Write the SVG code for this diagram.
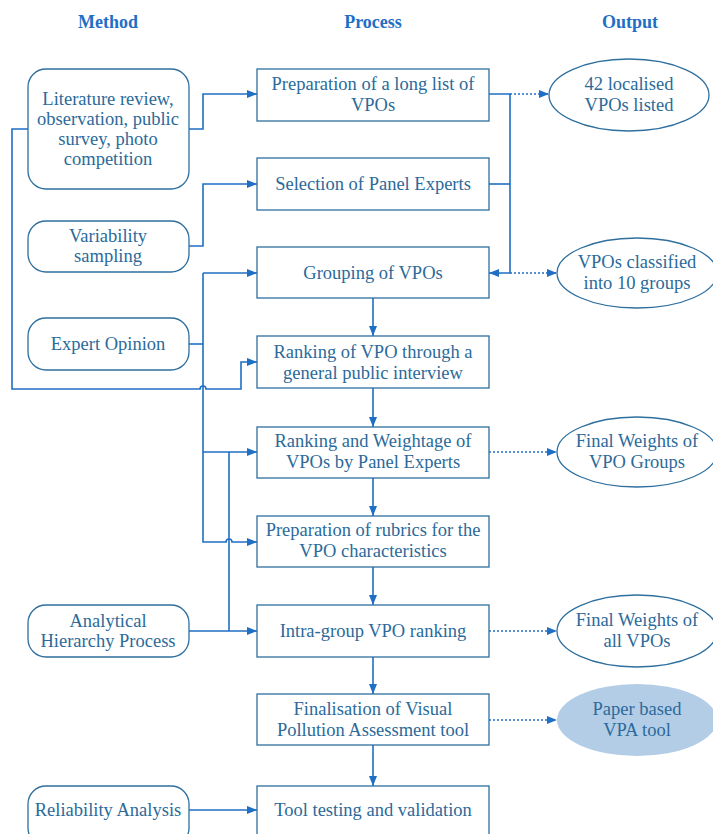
<svg xmlns="http://www.w3.org/2000/svg" width="713" height="834" viewBox="0 0 713 834">
<defs>
<marker id="ah" markerWidth="10" markerHeight="8" refX="10" refY="4" orient="auto" markerUnits="userSpaceOnUse">
<path d="M0,0 L10,4 L0,8 Z" fill="#1f6fc5"/>
</marker>
</defs>
<style>
.hd{font-family:"Liberation Serif","DejaVu Serif",serif;font-weight:bold;font-size:18px;fill:#1f6fc5;text-anchor:middle}
.t{font-family:"Liberation Serif","DejaVu Serif",serif;font-size:18.5px;fill:#2b6a9a;text-anchor:middle}
.rb{fill:#fff;stroke:#2e6f9e;stroke-width:1.3}
.pb{fill:#fff;stroke:#2e6f9e;stroke-width:1.3}
.el{fill:#fff;stroke:#2e6f9e;stroke-width:1.3}
.elf{fill:#b4cde6;stroke:none}
.c{fill:none;stroke:#1f6fc5;stroke-width:1.6}
.d{fill:none;stroke:#1f6fc5;stroke-width:1.4;stroke-dasharray:2,2}
</style>
<rect width="713" height="834" fill="#fff"/>
<g id="headers">
<text class="hd" x="108" y="28">Method</text>
<text class="hd" x="373" y="28">Process</text>
<text class="hd" x="630" y="28">Output</text>
</g>
<g id="connectors">
<path class="c" d="M189,129 H203 V94 H257" marker-end="url(#ah)"/>
<path class="c" d="M189,246 H203 V184 H257" marker-end="url(#ah)"/>
<path class="c" d="M28,129 H12 V389 H200 A3,3 0 0 1 206,389 H241 V362 H257" marker-end="url(#ah)"/>
<path class="c" d="M189,344 H203"/>
<path class="c" d="M203,273 V542 H226 A3,3 0 0 1 232,542 H257" marker-end="url(#ah)"/>
<path class="c" d="M203,273 H257" marker-end="url(#ah)"/>
<path class="c" d="M203,452 H257" marker-end="url(#ah)"/>
<path class="c" d="M229,452 V631"/>
<path class="c" d="M189,631 H257" marker-end="url(#ah)"/>
<path class="c" d="M189,810 H257" marker-end="url(#ah)"/>
<path class="c" d="M489,94 H510 V273 H489" marker-end="url(#ah)"/>
<path class="c" d="M489,184 H510"/>
<path class="d" d="M510,94 H549" marker-end="url(#ah)"/>
<path class="d" d="M510,273 H557" marker-end="url(#ah)"/>
<path class="d" d="M489,452 H557" marker-end="url(#ah)"/>
<path class="d" d="M489,631 H557" marker-end="url(#ah)"/>
<path class="d" d="M489,720 H557" marker-end="url(#ah)"/>
<path class="c" d="M373,298 V336" marker-end="url(#ah)"/>
<path class="c" d="M373,388 V427" marker-end="url(#ah)"/>
<path class="c" d="M373,478 V516" marker-end="url(#ah)"/>
<path class="c" d="M373,567 V605" marker-end="url(#ah)"/>
<path class="c" d="M373,657 V694" marker-end="url(#ah)"/>
<path class="c" d="M373,745 V786" marker-end="url(#ah)"/>
</g>
<g id="m-literature">
<rect class="rb" x="28" y="69" width="161" height="120" rx="18"/>
<text class="t" x="108" y="105">Literature review,</text>
<text class="t" x="108" y="125">observation, public</text>
<text class="t" x="108" y="145">survey, photo</text>
<text class="t" x="108" y="165">competition</text>
</g>
<g id="m-variability">
<rect class="rb" x="28" y="221" width="161" height="51" rx="18"/>
<text class="t" x="108" y="242">Variability</text>
<text class="t" x="108" y="262">sampling</text>
</g>
<g id="m-expert">
<rect class="rb" x="28" y="318" width="161" height="52" rx="18"/>
<text class="t" x="108" y="350">Expert Opinion</text>
</g>
<g id="m-ahp">
<rect class="rb" x="28" y="605" width="161" height="52" rx="18"/>
<text class="t" x="108" y="627">Analytical</text>
<text class="t" x="108" y="647">Hierarchy Process</text>
</g>
<g id="m-reliability">
<rect class="rb" x="28" y="786" width="161" height="60" rx="18"/>
<text class="t" x="108" y="816">Reliability Analysis</text>
</g>
<g id="p1">
<rect class="pb" x="257" y="69" width="232" height="52"/>
<text class="t" x="373" y="90">Preparation of a long list of</text>
<text class="t" x="373" y="111">VPOs</text>
</g>
<g id="p2">
<rect class="pb" x="257" y="158" width="232" height="52"/>
<text class="t" x="373" y="190">Selection of Panel Experts</text>
</g>
<g id="p3">
<rect class="pb" x="257" y="247" width="232" height="51"/>
<text class="t" x="373" y="279">Grouping of VPOs</text>
</g>
<g id="p4">
<rect class="pb" x="257" y="336" width="232" height="52"/>
<text class="t" x="373" y="358">Ranking of VPO through a</text>
<text class="t" x="373" y="379">general public interview</text>
</g>
<g id="p5">
<rect class="pb" x="257" y="427" width="232" height="51"/>
<text class="t" x="373" y="447">Ranking and Weightage of</text>
<text class="t" x="373" y="468">VPOs by Panel Experts</text>
</g>
<g id="p6">
<rect class="pb" x="257" y="516" width="232" height="51"/>
<text class="t" x="373" y="536">Preparation of rubrics for the</text>
<text class="t" x="373" y="557">VPO characteristics</text>
</g>
<g id="p7">
<rect class="pb" x="257" y="605" width="232" height="52"/>
<text class="t" x="373" y="637">Intra-group VPO ranking</text>
</g>
<g id="p8">
<rect class="pb" x="257" y="694" width="232" height="51"/>
<text class="t" x="373" y="715">Finalisation of Visual</text>
<text class="t" x="373" y="736">Pollution Assessment tool</text>
</g>
<g id="p9">
<rect class="pb" x="257" y="786" width="232" height="60"/>
<text class="t" x="373" y="816">Tool testing and validation</text>
</g>
<g id="o1">
<ellipse class="el" cx="629" cy="95" rx="80" ry="36"/>
<text class="t" x="629" y="90">42 localised</text>
<text class="t" x="629" y="111">VPOs listed</text>
</g>
<g id="o2">
<ellipse class="el" cx="637" cy="273" rx="80" ry="35"/>
<text class="t" x="637" y="268">VPOs classified</text>
<text class="t" x="637" y="289">into 10 groups</text>
</g>
<g id="o3">
<ellipse class="el" cx="637" cy="452" rx="80" ry="35"/>
<text class="t" x="637" y="447">Final Weights of</text>
<text class="t" x="637" y="468">VPO Groups</text>
</g>
<g id="o4">
<ellipse class="el" cx="637" cy="631" rx="80" ry="36"/>
<text class="t" x="637" y="626">Final Weights of</text>
<text class="t" x="637" y="647">all VPOs</text>
</g>
<g id="o5">
<ellipse class="elf" cx="637" cy="720" rx="80" ry="36"/>
<text class="t" x="637" y="715">Paper based</text>
<text class="t" x="637" y="736">VPA tool</text>
</g>
</svg>
